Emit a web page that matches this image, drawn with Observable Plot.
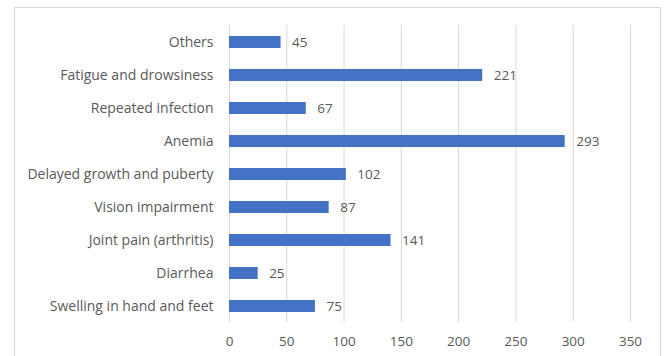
<!DOCTYPE html>
<html>
<head>
<meta charset="utf-8">
<script src="https://cdn.jsdelivr.net/npm/d3@7"></script>
<script src="https://cdn.jsdelivr.net/npm/@observablehq/plot@0.6"></script>
<style>
  html, body { margin: 0; padding: 0; background: #fff; }
  #wrap { position: relative; width: 665px; height: 356px; overflow: hidden; }
  #border { position: absolute; left: 14px; top: 7px; width: 647px; height: 400px; border: 1px solid #d9d9d9; box-sizing: border-box; pointer-events: none; }
  #wrap svg { position: absolute; left: 0; top: 0; }
</style>
</head>
<body>
<div id="wrap"><div id="border"></div></div>
<script>
const categories = [
  "Others",
  "Fatigue and drowsiness",
  "Repeated infection",
  "Anemia",
  "Delayed growth and puberty",
  "Vision impairment",
  "Joint pain (arthritis)",
  "Diarrhea",
  "Swelling in hand and feet"
];
const values = [45, 221, 67, 293, 102, 87, 141, 25, 75];
const xTicks = [0, 50, 100, 150, 200, 250, 300, 350];

const data = categories.map((c, i) => ({category: c, value: values[i]}));

const chart = Plot.plot({
  width: 665,
  height: 356,
  marginLeft: 229,
  marginRight: 35,
  marginTop: 25,
  marginBottom: 34,
  style: {fontFamily: "'Open Sans', sans-serif", fontSize: "13.5px", color: "#595959", background: "transparent"},
  x: {domain: [0, 350], ticks: xTicks, tickSize: 0, tickPadding: 14, label: null},
  y: {domain: categories, paddingInner: 0.64, paddingOuter: 0.32, align: 0.5, tickSize: 0, tickPadding: 16, label: null},
  marks: [
    Plot.gridX(xTicks, {stroke: "#d9d9d9", strokeOpacity: 1, strokeWidth: 1}),
    Plot.barX(data, {x: "value", y: "category", fill: "#4472c4"}),
    Plot.text(data, {x: "value", y: "category", text: d => String(d.value), textAnchor: "start", dx: 11, fill: "#595959", fontSize: 13.5}),
    Plot.axisY({tickSize: 0, tickPadding: 16, fontSize: 14, label: null})
  ]
});
document.getElementById("wrap").appendChild(chart);
</script>
</body>
</html>
